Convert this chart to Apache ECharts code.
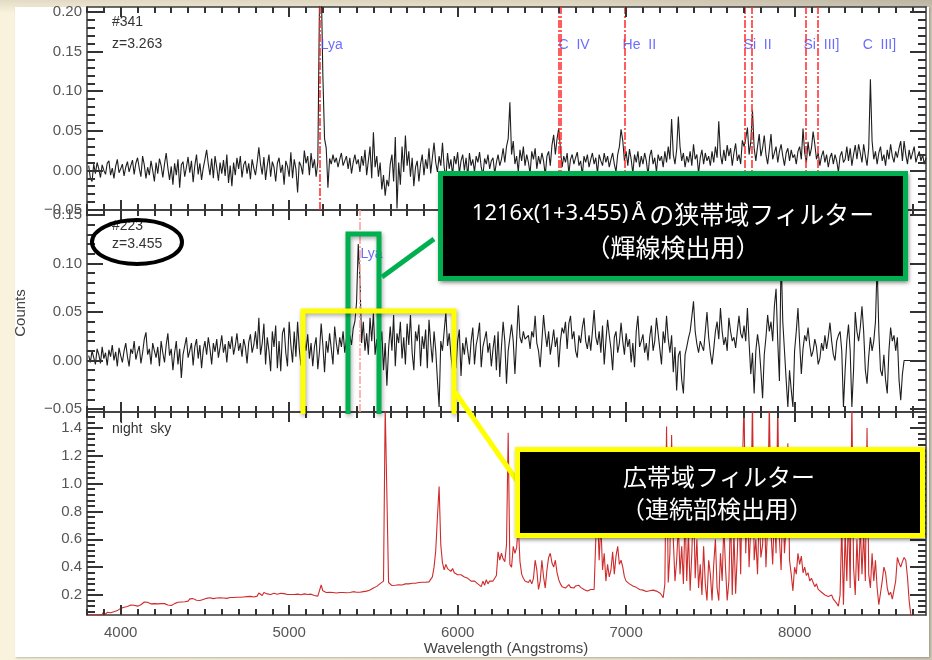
<!DOCTYPE html>
<html><head><meta charset="utf-8">
<script src="https://cdn.jsdelivr.net/npm/echarts@6/dist/echarts.min.js"></script>
<style>
html,body{margin:0;padding:0;width:932px;height:660px;overflow:hidden;}
body{background:linear-gradient(to bottom,rgba(60,50,30,0.12),rgba(0,0,0,0) 2%),linear-gradient(to right,#f9f2dc 0%,#efe7d0 60%,#cdc6b4 100%);}
#panel{position:absolute;left:15px;top:7px;width:914px;height:650px;background:#fff;box-shadow:1px 1px 2px rgba(0,0,0,0.25);}
#chart{position:absolute;left:0;top:0;width:932px;height:660px;}
</style></head><body><div id="panel"></div><div id="chart"></div>
<script>
// ---------- DATA ----------
// wavelength sampling of the spectra (Angstroms)
const WL_START = 3810, WL_STEP = 10;
// #341 (z=3.263) spectrum, in units of 0.001 counts
const spec341 = [
6,-10,-14,8,-4,10,2,-9,7,0,
-5,9,12,-6,3,-10,5,14,-3,2,
8,-7,4,11,-2,6,13,-5,9,16,
3,-8,18,7,-10,4,-6,12,0,-14,
10,-4,15,6,-9,8,22,3,-12,5,
-18,9,-6,14,-22,7,11,-8,4,17,
-3,12,-15,6,20,-5,9,-12,3,14,
26,8,-6,15,-10,18,4,-13,10,-4,
13,-7,20,-16,6,-20,10,-6,16,2,
18,-9,7,12,-4,9,-11,14,3,-6,
10,29,8,-5,17,-12,6,20,-8,11,
4,-14,9,16,-3,7,-18,12,5,-8,
23,-10,14,2,-28,11,6,-5,25,9,
18,-6,22,3,14,-8,10,215,240,120,
40,28,-22,15,8,20,10,16,4,14,
22,6,12,18,2,16,-4,10,20,8,
14,-2,18,6,26,-6,12,30,-10,48,
4,18,-8,10,-24,-6,-32,-12,-20,8,
20,-14,42,-48,10,-18,30,-2,44,6,
24,-8,16,-20,4,12,-14,8,20,-6,
14,2,28,-4,16,35,10,-2,18,6,
35,4,-10,22,2,14,-6,18,8,23,
-4,12,20,0,16,-8,22,6,14,-2,
18,10,23,4,-6,15,8,20,2,12,
16,-4,10,20,6,14,28,10,30,40,
86,20,37,8,18,-2,26,12,30,6,
20,10,-4,24,14,28,2,18,8,22,
12,-6,18,24,6,32,45,20,40,53,
28,4,18,10,22,-4,14,20,8,16,
23,6,12,-6,18,10,20,4,14,22,
8,16,-4,20,12,6,22,10,18,4,
14,22,8,-2,20,30,52,38,12,24,
6,27,14,-4,20,10,24,4,18,8,
22,12,-6,18,26,8,16,-2,20,12,
18,4,24,10,30,14,65,20,8,26,
68,30,12,22,4,18,10,24,6,33,
14,20,-4,16,26,8,22,12,18,6,
24,10,30,16,62,20,8,26,12,32,
18,28,6,22,34,12,20,8,38,30,
40,54,20,36,76,28,12,30,46,18,
28,44,20,8,26,46,14,22,30,10,
24,33,18,6,22,28,12,26,16,20,
8,24,30,14,53,22,10,36,18,28,
49,33,14,22,6,18,25,10,20,4,
16,22,8,20,12,-2,18,24,10,14,
30,12,28,6,20,32,14,33,22,10,
33,18,6,28,115,37,14,24,8,22,
30,12,20,6,26,14,33,18,10,24,
16,28,37,12,37,20,8,26,14,22,
30,10,18,24,12,20,8,16
];
// #223 (z=3.455) spectrum, in units of 0.001 counts
const spec223 = [
5,-2,10,3,-4,12,6,-3,14,2,
8,-5,11,4,16,0,9,-6,13,5,
-2,10,18,4,-6,12,7,20,1,9,
15,-3,8,22,29,6,12,-4,18,10,
3,14,-6,20,8,-2,16,28,5,12,
-10,8,20,-4,12,-18,6,15,24,3,
10,18,-5,14,22,2,16,-8,11,20,
6,24,12,-4,18,9,22,3,14,26,
8,17,-2,20,12,25,6,15,28,10,
18,4,22,14,-3,19,27,8,16,30,
12,44,6,18,38,-4,24,10,-11,30,
14,36,-8,20,-11,28,34,8,-6,40,
16,-2,30,4,40,12,-5,-4,22,10,
27,2,18,-6,14,24,-9,10,38,16,
-12,20,8,28,12,-4,35,18,6,24,
14,30,8,22,-2,26,16,33,40,60,
120,85,18,40,10,28,6,44,20,49,
6,22,-8,14,30,-10,18,-26,12,35,
10,47,-6,28,18,40,2,24,-4,38,
16,47,8,-10,30,20,37,-6,25,12,
32,-8,42,18,-2,30,10,-20,-48,20,
10,30,50,15,28,6,-10,14,-8,20,
32,-16,18,6,24,10,-4,20,34,-4,
16,25,39,-7,14,22,30,8,18,-6,
12,26,-10,30,-17,14,40,20,-24,10,
8,37,20,-14,22,57,24,18,30,22,
20,26,12,30,24,46,18,10,-7,20,
47,28,14,30,6,18,32,14,24,-7,
20,34,28,40,12,38,46,22,30,10,
3,26,18,34,44,20,12,26,10,30,
52,24,16,30,8,36,-4,20,42,26,
12,-10,24,30,8,18,39,20,6,28,
14,22,-2,18,-7,30,46,14,20,27,
8,18,0,24,36,10,20,44,28,12,
-4,30,18,46,22,8,26,-12,14,-31,
5,10,-20,-34,6,14,23,30,45,61,
30,17,8,20,22,10,30,50,24,8,
-4,12,30,40,22,54,30,16,24,10,
44,30,20,24,13,30,46,28,23,36,
20,54,18,-14,8,-34,10,27,14,-10,
-39,6,24,47,30,40,20,56,74,20,
-21,110,40,10,-20,-48,-10,-30,-48,10,
30,54,18,-14,12,26,20,34,16,4,
10,22,14,-4,2,18,10,26,12,24,
39,20,6,0,20,26,30,10,-48,-10,
20,37,10,-48,-10,50,30,20,34,56,
30,-10,-24,4,24,10,20,40,100,30,
-10,-16,6,-20,-34,10,34,20,26,10,
24,-20,-41,-14,0,0,0,0,0,0,
0,0,0,0,0,0,0,0
];
// night sky spectrum, in units of 0.001 counts
const nightSky = [
56,56,56,58,56,60,57,64,60,82,
58,76,62,72,66,80,90,88,96,104,
108,112,120,118,124,128,130,126,122,120,
126,130,140,150,155,148,140,136,132,138,
134,136,130,138,140,138,135,128,122,124,
120,138,150,148,145,150,148,152,150,156,
172,180,174,168,162,158,160,164,168,172,
176,178,180,178,174,176,178,176,180,178,
178,180,176,180,182,178,182,180,184,186,
184,186,186,182,188,186,190,188,186,190,
192,214,200,196,218,222,208,206,204,210,
212,210,206,208,212,214,210,206,204,202,
204,206,204,202,206,204,202,206,208,206,
204,208,206,200,196,190,192,188,272,230,
222,218,222,220,224,218,216,214,216,218,
216,218,214,216,220,218,222,224,218,220,
218,220,222,224,226,228,230,236,240,250,
256,262,270,282,290,300,1550,1550,290,280,
268,266,270,272,274,276,272,278,280,282,
280,282,284,286,284,288,290,288,292,290,
292,290,294,300,330,400,520,760,980,560,
430,380,420,390,400,370,390,360,350,345,
340,345,335,330,325,320,310,300,305,300,
290,280,270,260,300,270,310,280,300,290,
300,290,340,510,450,500,460,440,560,1365,
420,400,550,500,540,700,440,350,320,300,
300,290,310,280,320,450,380,240,300,450,
330,250,380,470,500,430,400,450,360,310,
280,260,270,250,260,275,255,260,250,265,
262,270,255,245,240,232,228,235,240,230,
240,600,800,450,720,380,500,300,420,330,
380,510,350,480,550,420,450,400,330,300,
290,280,270,265,260,255,250,240,230,235,
240,225,220,230,226,235,232,228,220,215,
200,180,280,1410,290,500,1350,600,300,450,
700,350,550,280,800,300,650,230,500,900,
320,600,250,420,200,550,280,160,450,350,
160,420,600,250,160,500,300,700,400,160,
300,800,200,650,210,500,900,350,1100,1600,
500,900,400,700,1600,450,600,350,800,470,
560,900,400,700,1600,650,420,800,500,1600,
600,380,900,500,700,1290,450,350,230,400,
350,500,420,480,360,400,340,360,300,320,
290,260,280,240,250,220,230,200,210,190,
180,200,170,160,140,120,200,700,130,650,
300,800,250,1600,400,200,600,300,700,350,
650,300,1400,350,250,500,300,450,250,130,
130,300,400,360,250,200,220,170,180,300,
470,430,400,440,470,450,330,160,56,40
];
// emission-line markers for #341 (observed wavelengths)
const lineMarks341 = [5184, 6600, 6611, 6993, 7707, 7745, 8066, 8138];
const lineLabels341 = ['Lya', 'C  IV', 'He  II', 'Si  II', 'Si  III]', 'C  III]'];
const lineLabelWl341 = [5187, 6599, 6979, 7697, 8053, 8404];
const lineLabelY341 = 0.158;
const lineMark223 = [5416];
const lineLabels223 = ['Lya'];
const lineLabelWl223 = [5424];
const lineLabelY223 = 0.110;
// axes
const X_MIN = 3800, X_MAX = 8780;
const xMajorTicks = [4000, 5000, 6000, 7000, 8000];
const xMinorStep = 100;
const yTicksTop = [-0.05, 0.00, 0.05, 0.10, 0.15, 0.20];
const yTicksMid = [-0.05, 0.00, 0.05, 0.10, 0.15];
const yTicksSky = [0.2, 0.4, 0.6, 0.8, 1.0, 1.2, 1.4];

// ---------- LAYOUT ----------
function steps(a, b, s){ const r = []; const n = Math.floor((b - a) / s + 1e-9); for (let i = 0; i <= n; i++) r.push(+(a + i*s).toFixed(4)); return r; }
const GRID_LEFT = 87, GRID_RIGHT = 6, CW = 932;
const PLOT_W = CW - GRID_LEFT - GRID_RIGHT;
const panels = [
  {top:7,   height:203, min:-0.05,   max:0.2063, major:yTicksTop, minor:steps(-0.05, 0.2063, 0.01), dec:2},
  {top:210, height:202, min:-0.0531, max:0.1552, major:yTicksMid, minor:steps(-0.05, 0.1552, 0.01), dec:2},
  {top:412, height:203, min:0.0563,  max:1.515,  major:yTicksSky, minor:steps(0.08, 1.515, 0.04), dec:1}
];
const xMinorTicks = steps(X_MIN, X_MAX, xMinorStep);
const AX = '#3a3a3a';
const LBL = {color:'#555', fontSize:15, fontFamily:'Liberation Sans'};
const lineOn = {show:true, onZero:false, lineStyle:{color:AX, width:1.5}};

const grid = [], xAxis = [], yAxis = [];
panels.forEach((p, pi) => {
  grid.push({left:GRID_LEFT, right:GRID_RIGHT, top:p.top, height:p.height, outerBoundsMode:'none', containLabel:false});
  xAxis.push({type:'value', gridIndex:pi, min:X_MIN, max:X_MAX, position:'bottom', axisLine:lineOn,
    axisTick:{show:false}, splitLine:{show:false},
    axisLabel: pi === 2 ? Object.assign({show:true, customValues:xMajorTicks, margin:10, formatter:v => String(v)}, LBL) : {show:false}});
  xAxis.push({type:'value', gridIndex:pi, min:X_MIN, max:X_MAX, position:'top', axisLine:lineOn,
    axisTick:{show:false}, splitLine:{show:false}, axisLabel:{show:false}});
  yAxis.push({type:'value', gridIndex:pi, min:p.min, max:p.max, position:'left', axisLine:lineOn,
    axisTick:{show:false}, splitLine:{show:false},
    axisLabel:Object.assign({show:true, customValues:p.major, margin:5,
      formatter:v => Number(v).toFixed(p.dec).replace('-', '\u2212')}, LBL)});
  yAxis.push({type:'value', gridIndex:pi, min:p.min, max:p.max, position:'right', axisLine:lineOn,
    axisTick:{show:false}, splitLine:{show:false}, axisLabel:{show:false}});
});

// IDL-style inward tick marks on all four sides, as solid markLine segments in data coordinates
const TICK_STYLE = {type:'solid', color:'#333', width:2, opacity:1};
function tickMarks(pi){
  const p = panels[pi];
  const yPerPx = (p.max - p.min) / p.height, xPerPx = (X_MAX - X_MIN) / PLOT_W;
  const segs = [];
  const seg = (a, b) => segs.push([{coord:a, lineStyle:TICK_STYLE, symbol:'none'}, {coord:b, symbol:'none'}]);
  xMinorTicks.forEach(v => {
    const len = (xMajorTicks.indexOf(v) >= 0 ? 10 : 6) * yPerPx;
    seg([v, p.min], [v, p.min + len]);
    seg([v, p.max], [v, p.max - len]);
  });
  const yTick = (v, lenPx) => {
    const len = lenPx * xPerPx;
    seg([X_MIN, v], [X_MIN + len, v]);
    seg([X_MAX, v], [X_MAX - len, v]);
  };
  p.minor.forEach(v => yTick(v, 8));
  p.major.forEach(v => yTick(v, 16));
  return segs;
}

function pairs(arr){ return arr.map((v,i) => [WL_START + WL_STEP*i, v/1000]); }
const dashDot = [8, 2, 2, 2];
const labelStyle = {show:true, position:'right', distance:0, formatter:'{b}', color:'#4646ff',
  fontSize:14, fontFamily:'Liberation Sans'};

const series = [
  {type:'line', name:'#341', xAxisIndex:0, yAxisIndex:0, data:pairs(spec341), showSymbol:false, symbol:'none',
   lineStyle:{color:'#1e1e1e', width:1.1}, z:3,
   markLine:{silent:true, symbol:'none', label:{show:false}, animation:false,
     lineStyle:{color:'#ff2a2a', type:dashDot, width:1.5},
     data: lineMarks341.map(x => ({xAxis:x})).concat(tickMarks(0))}},
  {type:'scatter', xAxisIndex:0, yAxisIndex:0, symbolSize:0, silent:true, z:4,
   data: lineLabels341.map((n,i) => ({name:n, value:[lineLabelWl341[i], lineLabelY341]})), label:labelStyle},
  {type:'line', name:'#223', xAxisIndex:2, yAxisIndex:2, data:pairs(spec223), showSymbol:false, symbol:'none',
   lineStyle:{color:'#1e1e1e', width:1.1}, z:3,
   markLine:{silent:true, symbol:'none', label:{show:false}, animation:false,
     lineStyle:{color:'#ff9c9c', type:dashDot, width:1.5},
     data: lineMark223.map(x => ({xAxis:x})).concat(tickMarks(1))}},
  {type:'scatter', xAxisIndex:2, yAxisIndex:2, symbolSize:0, silent:true, z:4,
   data: lineLabels223.map((n,i) => ({name:n, value:[lineLabelWl223[i], lineLabelY223]})), label:labelStyle},
  {type:'line', name:'night sky', xAxisIndex:4, yAxisIndex:4, data:pairs(nightSky), showSymbol:false, symbol:'none',
   lineStyle:{color:'#cf2b2b', width:1.1}, z:3,
   markLine:{silent:true, symbol:'none', label:{show:false}, animation:false,
     lineStyle:TICK_STYLE, data: tickMarks(2)}}
];

const txt = (x,y,t,opt,el) => Object.assign({type:'text', x:x, y:y, z:50,
  style:Object.assign({text:t, fill:'#333', fontSize:14, fontFamily:'Liberation Sans', align:'left', verticalAlign:'middle'}, opt||{})}, el||{});
const GREEN = '#00b050', YELLOW = '#ffff00';
const shadow = {shadowBlur:4, shadowColor:'rgba(0,0,0,0.35)', shadowOffsetX:1, shadowOffsetY:2};

const graphic = [
  txt(112, 22, '#341'), txt(112, 44, 'z=3.263'),
  txt(112, 226, '#223'), txt(112, 244, 'z=3.455'),
  txt(112, 429, 'night  sky'),
  txt(21, 313, 'Counts', {align:'center', fill:'#444', fontSize:15}, {rotation:Math.PI/2}),
  txt(506, 649, 'Wavelength (Angstroms)', {align:'center', fill:'#444', fontSize:15}),
  {type:'ellipse', z:80, shape:{cx:137, cy:242, rx:45, ry:22}, style:{fill:null, stroke:'#000', lineWidth:4}},
  {type:'polyline', z:80, shape:{points:[[348,414],[348,234],[379,234],[379,414]]},
   style:Object.assign({fill:null, stroke:GREEN, lineWidth:5}, shadow)},
  {type:'line', z:80, shape:{x1:382, y1:277, x2:434, y2:239}, style:{stroke:GREEN, lineWidth:5}},
  {type:'rect', z:81, shape:{x:440.5, y:173.5, width:465, height:105}, style:Object.assign({fill:'#000', stroke:GREEN, lineWidth:5}, shadow)},
  {type:'text', z:82, x:673, y:214, style:{text:'{a|1216x(1+3.455)} {a|\u00c5} {j|\u306e\u72ed\u5e2f\u57df\u30d5\u30a3\u30eb\u30bf\u30fc}',
     align:'center', verticalAlign:'middle', fill:'#fff',
     rich:{a:{fontFamily:'Noto Sans', fontSize:22, fill:'#fff'}, j:{fontFamily:'Noto Sans CJK JP', fontSize:25, fill:'#fff'}}}},
  {type:'text', z:82, x:673, y:247, style:{text:'\uff08\u8f1d\u7dda\u691c\u51fa\u7528\uff09', align:'center', verticalAlign:'middle',
     fill:'#fff', fontFamily:'Noto Sans CJK JP', fontSize:25}},
  {type:'polyline', z:80, shape:{points:[[303,414],[303,311],[454,311],[454,414]]},
   style:Object.assign({fill:null, stroke:YELLOW, lineWidth:5}, shadow)},
  {type:'line', z:80, shape:{x1:455, y1:392, x2:520, y2:485}, style:{stroke:YELLOW, lineWidth:5}},
  {type:'rect', z:81, shape:{x:517.5, y:449.5, width:405, height:86}, style:Object.assign({fill:'#000', stroke:YELLOW, lineWidth:5}, shadow)},
  {type:'text', z:82, x:719, y:477, style:{text:'\u5e83\u5e2f\u57df\u30d5\u30a3\u30eb\u30bf\u30fc', align:'center', verticalAlign:'middle',
     fill:'#fff', fontFamily:'Noto Sans CJK JP', fontSize:24}},
  {type:'text', z:82, x:717, y:509, style:{text:'\uff08\u9023\u7d9a\u90e8\u691c\u51fa\u7528\uff09', align:'center', verticalAlign:'middle',
     fill:'#fff', fontFamily:'Noto Sans CJK JP', fontSize:24}}
];

const chart = echarts.init(document.getElementById('chart'), null, {renderer:'canvas'});
chart.setOption({
  animation:false,
  backgroundColor:'transparent',
  grid:grid, xAxis:xAxis, yAxis:yAxis, series:series, graphic:graphic
});
</script></body></html>
